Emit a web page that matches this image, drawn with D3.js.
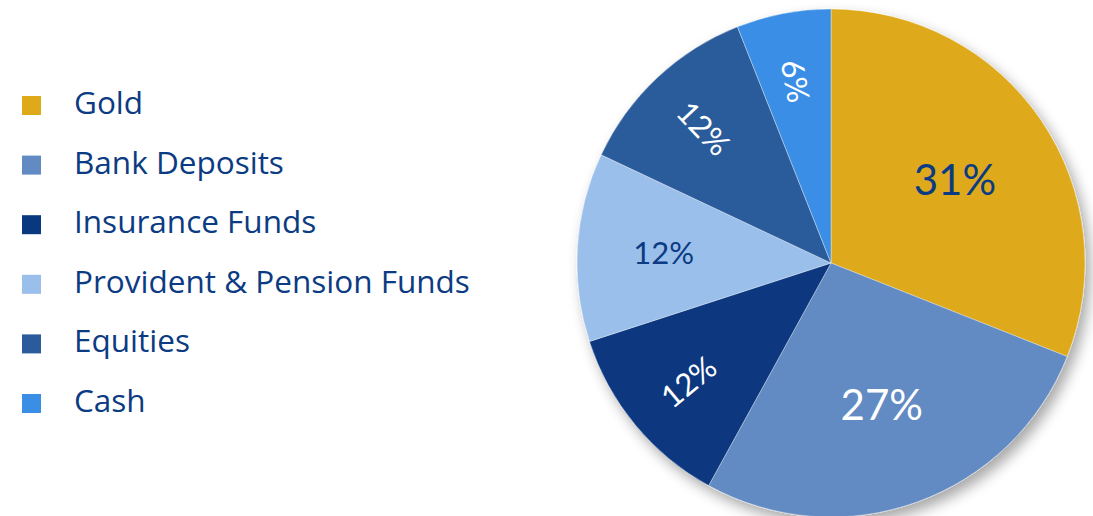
<!DOCTYPE html>
<html>
<head>
<meta charset="utf-8">
<script src="https://cdn.jsdelivr.net/npm/d3@7"></script>
<style>
  html, body { margin: 0; padding: 0; background: #fff; }
  svg { display: block; }
  .legend text { font-family: "Open Sans", Lato, sans-serif; fill: #0b3b82; }
  .slice-label { font-family: Lato, "Open Sans", sans-serif; }
</style>
</head>
<body>
<div id="chart"></div>
<script>
var categories = ['Gold', 'Bank Deposits', 'Insurance Funds', 'Provident & Pension Funds', 'Equities', 'Cash'];
var values = [31, 27, 12, 12, 12, 6];
var colors = ['#deaa1a', '#628bc3', '#09387f', '#9bbfeb', '#2c5b9b', '#3a8ee6'];

var width = 1093,
	height = 516,
	cx = 831,
	cy = 263,
	radius = 254,
	navy = '#0b3b82';

var data = categories.map(function (c, i) {
	return { name: c, value: values[i], color: colors[i] };
});

var svg = d3.select('#chart').append('svg')
	.attr('width', width)
	.attr('height', height);

// soft shadow under the pie
var filter = svg.append('defs').append('filter')
	.attr('id', 'shadow')
	.attr('x', '-20%').attr('y', '-20%')
	.attr('width', '140%').attr('height', '140%');
filter.append('feGaussianBlur').attr('in', 'SourceAlpha').attr('stdDeviation', 7);
filter.append('feOffset').attr('dx', 5).attr('dy', 7).attr('result', 'blur');
filter.append('feComponentTransfer').append('feFuncA').attr('type', 'linear').attr('slope', 0.35);
var merge = filter.append('feMerge');
merge.append('feMergeNode');
merge.append('feMergeNode').attr('in', 'SourceGraphic');

var pie = d3.pie()
	.sort(null)
	.value(function (d) { return d.value; });

var arc = d3.arc()
	.innerRadius(0)
	.outerRadius(radius);

var arcs = pie(data);

var g = svg.append('g')
	.attr('transform', 'translate(' + cx + ',' + cy + ')');

g.append('g')
	.attr('filter', 'url(#shadow)')
	.selectAll('path')
	.data(arcs)
	.enter().append('path')
	.attr('d', arc)
	.attr('fill', function (d) { return d.data.color; })
	.attr('stroke', 'rgba(255,255,255,0.6)')
	.attr('stroke-width', 0.6);

// labels: big slices horizontal, small ones along the radius
g.selectAll('text.slice-label')
	.data(arcs)
	.enter().append('text')
	.attr('class', 'slice-label')
	.attr('text-anchor', 'middle')
	.attr('dominant-baseline', 'central')
	.attr('font-size', function (d) { return d.data.value >= 20 ? 42 : 31; })
	.attr('fill', function (d) { return d3.lab(d.data.color).l > 65 ? navy : '#fff'; })
	.attr('transform', function (d) {
		var mid = (d.startAngle + d.endAngle) / 2;
		var inward = Math.atan2(Math.cos(mid), -Math.sin(mid)) * 180 / Math.PI;
		var rot = 0, r = 0.59 * radius;
		if (d.data.value < 20) {
			if (Math.abs(inward) < 6) { r = 0.66 * radius; }
			else { rot = inward; r = 0.73 * radius; }
		}
		var x = Math.sin(mid) * r, y = -Math.cos(mid) * r;
		return 'translate(' + x + ',' + y + ') rotate(' + rot + ')';
	})
	.text(function (d) { return d.data.value + '%'; });

// legend
var legend = svg.append('g').attr('class', 'legend');
var row = d3.scaleLinear().domain([0, categories.length - 1]).range([115, 413]);

var items = legend.selectAll('g')
	.data(data)
	.enter().append('g')
	.attr('transform', function (d, i) { return 'translate(0,' + row(i) + ')'; });

items.append('rect')
	.attr('x', 22)
	.attr('y', -19)
	.attr('width', 19)
	.attr('height', 19)
	.attr('fill', function (d) { return d.color; });

items.append('text')
	.attr('x', 74)
	.attr('y', -1)
	.attr('font-size', 31.5)
	.text(function (d) { return d.name; });
</script>
</body>
</html>
